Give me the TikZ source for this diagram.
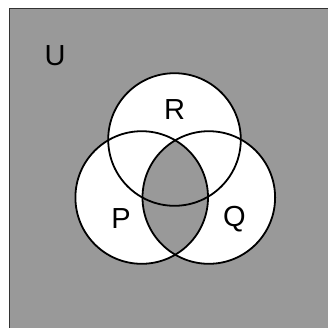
\documentclass[tikz,border=0pt]{standalone}
\usepackage{fontspec}
\setmainfont{Liberation Sans}
\begin{document}
\begin{tikzpicture}[x=1pt,y=-1pt,
  setline/.style={line width=1.8pt, draw=black},
  lbl/.style={font=\fontsize{29}{29}\selectfont, inner sep=0pt}]
\useasboundingbox (0,0) rectangle (328,327);
\clip (0,0) rectangle (328,327);
\definecolor{venngray}{RGB}{153,153,153}
\coordinate (cR) at (174.5,139.5);
\coordinate (cP) at (141.7,197.5);
\coordinate (cQ) at (208.8,197.5);
\def\rad{66.3}
% universe
\fill[venngray] (9.5,8.3) rectangle (345,345);
% union white
\fill[white] (cR) circle (\rad) (cP) circle (\rad) (cQ) circle (\rad);
% P cap Q shaded
\begin{scope}
  \clip (cP) circle (\rad);
  \fill[venngray] (cQ) circle (\rad);
\end{scope}
\draw[line width=1.6pt, draw=black!80] (9.5,8.3) rectangle (345,345);
\draw[setline] (cR) circle (\rad);
\draw[setline] (cP) circle (\rad);
\draw[setline] (cQ) circle (\rad);
\node[lbl] (U) at (55,56) {U};
\node[lbl] (R) at (174.5,110) {R};
\node[lbl] (P) at (121,219) {P};
\node[lbl] (Q) at (234.5,219) {Q};
\end{tikzpicture}
\end{document}
